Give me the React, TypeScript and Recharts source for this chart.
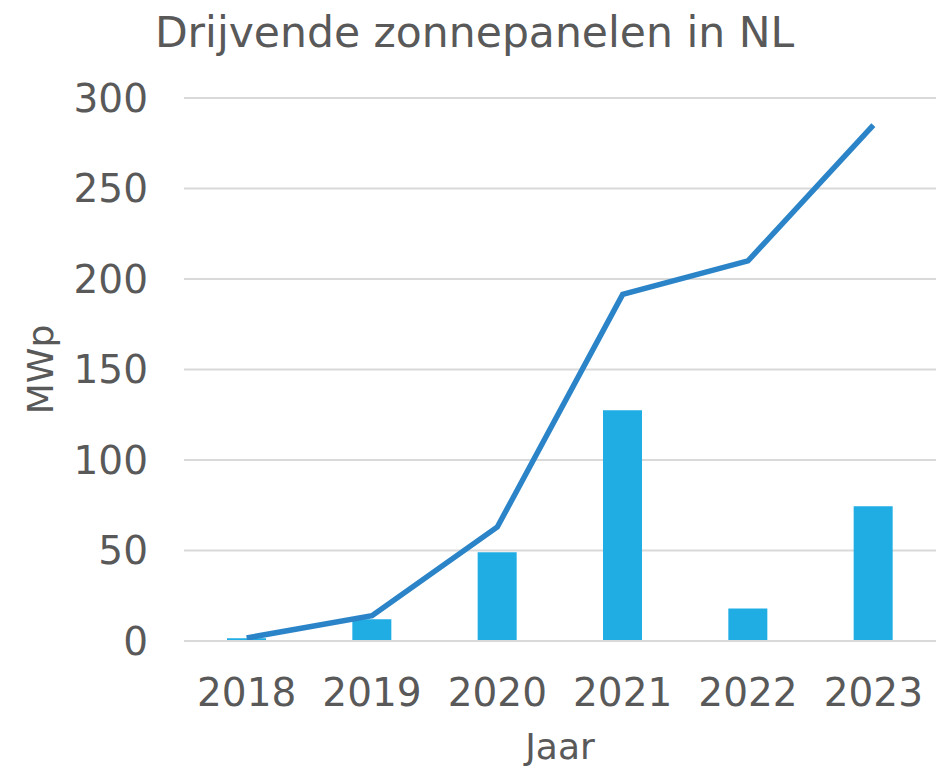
import { ComposedChart, Bar, Line, XAxis, YAxis, CartesianGrid } from "recharts"

// Floating solar capacity in NL (MWp)
const years = ["2018", "2019", "2020", "2021", "2022", "2023"]
const added = [1.5, 12, 49, 127.5, 18, 74.5]
const cumulative = [1.7, 14, 63, 191.5, 210, 285]
const yTicks = [0, 50, 100, 150, 200, 250, 300]

const data = years.map((year, i) => ({ year, added: added[i], cumulative: cumulative[i] }))

const FONT = "'DejaVu Sans', sans-serif"
const TEXT = "#595959"

export default function App() {
  return (
    <div style={{ position: "absolute", left: 0, top: 0, width: 941, height: 769, background: "#fff" }}>
      <div
        style={{
          position: "absolute",
          left: 0,
          width: 949,
          top: 6,
          textAlign: "center",
          fontFamily: FONT,
          fontSize: 42.5,
          color: TEXT,
          lineHeight: "54px",
        }}
      >
        Drijvende zonnepanelen in NL
      </div>
      <ComposedChart
        width={941}
        height={769}
        data={data}
        margin={{ top: 98, right: 5, left: 0, bottom: 0 }}
        barCategoryGap="34%"
      >
        <CartesianGrid vertical={false} stroke="#D9D9D9" strokeWidth={2} />
        <XAxis
          dataKey="year"
          height={128}
          tickSize={0}
          tickMargin={37}
          axisLine={{ stroke: "#D9D9D9", strokeWidth: 2 }}
          tick={{ fontSize: 39, fill: TEXT, fontFamily: FONT }}
          label={{
            value: "Jaar",
            position: "insideBottom",
            offset: 10,
            style: { fontSize: 36, fill: TEXT, fontFamily: FONT },
          }}
        />
        <YAxis
          width={184}
          domain={[0, 300]}
          ticks={yTicks}
          tickSize={0}
          tickMargin={36}
          axisLine={false}
          tick={{ fontSize: 39, fill: TEXT, fontFamily: FONT }}
          label={{
            value: "MWp",
            angle: -90,
            position: "insideLeft",
            offset: 40,
            style: { fontSize: 36, fill: TEXT, fontFamily: FONT, textAnchor: "middle" },
          }}
        />
        <Bar dataKey="added" fill="#1FADE4" barSize={39} isAnimationActive={false} />
        <Line
          type="linear"
          dataKey="cumulative"
          stroke="#2B84C8"
          strokeWidth={5.5}
          dot={false}
          isAnimationActive={false}
        />
      </ComposedChart>
    </div>
  )
}
